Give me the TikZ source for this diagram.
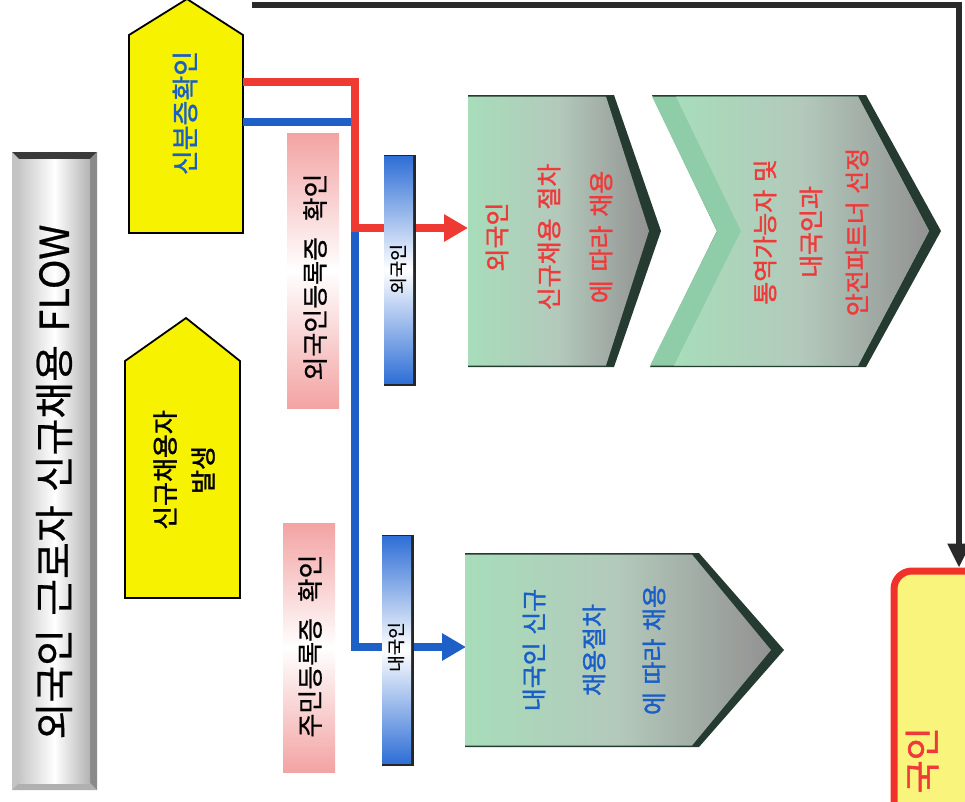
\documentclass[tikz,border=0pt]{standalone}
\usepackage{fontspec}
\newfontfamily\kr{Noto Sans CJK KR}
\newfontfamily\krm[FakeBold=1.3]{Noto Sans CJK KR}
\newfontfamily\krt[FakeBold=0.6]{Noto Sans CJK KR}
\usetikzlibrary{arrows.meta}
\definecolor{ylw}{HTML}{F7F200}
\definecolor{txtred}{HTML}{F03A3A}
\definecolor{txtblue}{HTML}{1A5FC8}
\definecolor{redln}{HTML}{EE3A32}
\definecolor{blueln}{HTML}{1F5FC8}
\definecolor{pinkc}{HTML}{F3A3A3}
\definecolor{barblue}{HTML}{2F6FD6}
\definecolor{chgreen}{HTML}{A7DDBA}
\definecolor{chmid}{HTML}{B3C9BB}
\definecolor{chgray}{HTML}{929292}
\definecolor{chband}{HTML}{8FCDA8}
\definecolor{chdark}{HTML}{253A30}
\definecolor{boxred}{HTML}{F0322A}
\definecolor{boxyel}{HTML}{F9F47C}
\definecolor{blk}{HTML}{2A2A2A}
\definecolor{tdark}{HTML}{3A3A3A}
\definecolor{tlight}{HTML}{C4C4C4}
\definecolor{tmid}{HTML}{8A8A8A}
\definecolor{tbot}{HTML}{B0B0B0}
\tikzset{
  pent/.style={draw=black, line width=1.8pt, fill=ylw, line join=miter},
  rtext/.style={rotate=90, inner sep=0pt, align=center},
  redline/.style={draw=redln, line width=7.5pt, line join=miter},
  blueline/.style={draw=blueln, line width=7.5pt, line join=miter},
  bigarrow/.style={-{Triangle[length=24pt,width=26pt]}},
  blkline/.style={draw=blk, line width=5.5pt, line join=miter, -{Triangle[length=24pt,width=22pt]}},
  pinkbox/.style={top color=pinkc, bottom color=pinkc, middle color=white},
  barshade/.style={top color=barblue, bottom color=barblue, middle color=white},
  chface/.style={left color=chgreen, right color=chgray, middle color=chmid},
}
\begin{document}
\begin{tikzpicture}[x=1pt,y=-1pt]
\useasboundingbox (0,0) rectangle (965,801);
\clip (0,0) rectangle (965,801);
\fill[white] (0,0) rectangle (965,801);

% ---------- title bar ----------
\fill[tbot] (12,152) rectangle (97,790);
\fill[tdark] (12,152) -- (97,152) -- (90,159) -- (19,159) -- cycle;
\fill[tlight] (12,152) -- (19,159) -- (19,783) -- (12,790) -- cycle;
\fill[tmid] (97,152) -- (90,159) -- (90,783) -- (97,790) -- cycle;
\fill[tbot] (12,790) -- (19,783) -- (90,783) -- (97,790) -- cycle;
\shade[left color=black!22, right color=black!30, middle color=white] (19,159) rectangle (90,783);
\node[rtext, font={\krt\fontsize{40}{44}\selectfont\spaceskip=0.33em}] (title) at (54,482) {외국인 근로자 신규채용 FLOW};

% ---------- pentagons ----------
\draw[pent] (129,35) -- (187,-1) -- (243,35) -- (243,233) -- (129,233) -- cycle;
\node[rtext, text=txtblue, font={\krm\fontsize{27}{30}\selectfont}] (idtxt) at (185,113) {신분증확인};
\coordinate (idR) at (243,82);
\coordinate (idB) at (243,122);

\draw[pent] (125,361) -- (186,318) -- (240,361) -- (240,598) -- (125,598) -- cycle;
\node[rtext, font={\krm\fontsize{26}{38}\selectfont}] (newtxt) at (184,470) {신규채용자\\발생};

% ---------- pink boxes ----------
\shade[pinkbox] (287,133) rectangle (339,408);
\node[rtext, font={\krt\fontsize{26}{30}\selectfont\spaceskip=0.6em}] (fcard) at (315,277) {외국인등록증 확인};
\shade[pinkbox] (283,523) rectangle (335,772);
\node[rtext, font={\krt\fontsize{26}{30}\selectfont\spaceskip=0.6em}] (dcard) at (310,646) {주민등록증 확인};

% ---------- chevron targets ----------
\coordinate (forIn) at (468,228);
\coordinate (domIn) at (466,647);

% ---------- connectors ----------
\draw[blueline, bigarrow] (idB) -- (355,122) -- (355,647) -- (domIn);
\draw[redline, bigarrow] (idR) -- (355,82) -- (355,228) -- (forIn);

% ---------- blue bars ----------
\fill[black!85] (384,155) rectangle (416,386);
\shade[barshade] (384,156.5) rectangle (413,383);
\node[rtext, font={\krt\fontsize{18}{20}\selectfont}] (forlbl) at (398,269) {외국인};
\fill[black!85] (382,535) rectangle (414,766);
\shade[barshade] (382,536.5) rectangle (411,763);
\node[rtext, font={\krt\fontsize{18}{20}\selectfont}] (domlbl) at (396,647) {내국인};

% ---------- chevron 1 ----------
\fill[chdark] (468,95) -- (614,95) -- (661,231) -- (614,367) -- (468,367) -- cycle;
\shade[chface] (468,96.5) -- (606,96.5) -- (649,231) -- (606,365.5) -- (468,365.5) -- cycle;
\node[rtext, text=txtred, font={\krm\fontsize{25}{52}\selectfont\spaceskip=0.35em}] (ch1txt) at (549,237) {외국인\\신규채용 절차\\에 따라 채용};

% ---------- chevron 2 ----------
\fill[chdark] (652,95) -- (866,95) -- (941,231) -- (866,367) -- (650,367) -- (717,231) -- cycle;
\fill[chband] (652,96.5) -- (858,96.5) -- (929,231) -- (858,365.5) -- (650,365.5) -- (717,231) -- cycle;
\shade[chface] (676,96.5) -- (858,96.5) -- (929,231) -- (858,365.5) -- (674,365.5) -- (741,231) -- cycle;
\node[rtext, text=txtred, font={\krm\fontsize{25}{46}\selectfont\spaceskip=0.3em}] (ch2txt) at (811,232) {통역가능자 및\\내국인과\\안전파트너 선정};

% ---------- chevron 3 ----------
\fill[chdark] (465,553) -- (699,553) -- (784,650) -- (699,747) -- (465,747) -- cycle;
\shade[chface] (465,554.5) -- (692,554.5) -- (771,650) -- (692,745.5) -- (465,745.5) -- cycle;
\node[rtext, text=txtblue, font={\krm\fontsize{25}{60}\selectfont\spaceskip=0.3em}] (ch3txt) at (594,650) {내국인 신규\\채용절차\\에 따라 채용};

% ---------- final box ----------
\draw[draw=boxred, line width=7pt, fill=boxyel, rounded corners=18pt] (894,571) rectangle (1010,880);
\coordinate (finTop) at (959,567.5);
\node[rotate=90, inner sep=0pt, anchor=east, text=txtred, font={\krm\fontsize{36}{40}\selectfont}] (fintxt) at (922,727) {국인};

% ---------- top loop line ----------
\coordinate (topL) at (252,5);
\draw[blkline] (topL) -- (959,5) -- (finTop);
\end{tikzpicture}
\end{document}
